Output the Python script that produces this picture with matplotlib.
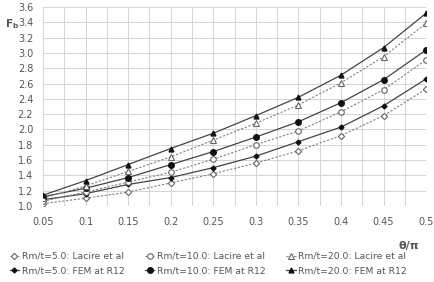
import matplotlib.pyplot as plt
import numpy as np

# theta / pi values
theta = [0.05, 0.1, 0.15, 0.2, 0.25, 0.3, 0.35, 0.4, 0.45, 0.5]

# Lacire et al (dashed, hollow markers)
lac_5 = [1.03, 1.10, 1.18, 1.30, 1.42, 1.56, 1.72, 1.92, 2.18, 2.53]
lac_10 = [1.06, 1.18, 1.31, 1.44, 1.61, 1.80, 1.98, 2.23, 2.52, 2.91]
lac_20 = [1.10, 1.26, 1.45, 1.64, 1.86, 2.08, 2.32, 2.61, 2.95, 3.39]

# FEM at R12 (solid, filled markers)
fem_5 = [1.08, 1.16, 1.28, 1.37, 1.50, 1.65, 1.84, 2.03, 2.31, 2.66]
fem_10 = [1.12, 1.23, 1.37, 1.54, 1.71, 1.90, 2.10, 2.35, 2.65, 3.04]
fem_20 = [1.14, 1.33, 1.54, 1.75, 1.95, 2.18, 2.42, 2.71, 3.07, 3.52]

fig = plt.figure(figsize=(4.34, 2.82), dpi=100)
ax = fig.add_axes([0.099, 0.27, 0.883, 0.705])

tc = "#555555"
lac_kw = dict(color="#808080", ls=(0, (2, 1.5)), lw=0.8, mfc="white", mec="#666666", mew=0.8)
fem_kw = dict(color="#444444", ls="-", lw=0.9, mfc="#111111", mec="#111111")

ax.plot(theta, lac_5, marker="D", ms=3.2, label="Rm/t=5.0: Lacire et al", **lac_kw)
ax.plot(theta, fem_5, marker="D", ms=2.5, label="Rm/t=5.0: FEM at R12", **fem_kw)
ax.plot(theta, lac_10, marker="o", ms=4, label="Rm/t=10.0: Lacire et al", **lac_kw)
ax.plot(theta, fem_10, marker="o", ms=4, label="Rm/t=10.0: FEM at R12", **fem_kw)
ax.plot(theta, lac_20, marker="^", ms=4, label="Rm/t=20.0: Lacire et al", **lac_kw)
ax.plot(theta, fem_20, marker="^", ms=3.5, label="Rm/t=20.0: FEM at R12", **fem_kw)

ax.set_xlim(0.05, 0.5)
ax.set_ylim(1.0, 3.6)
ax.set_xticks(theta)
ax.set_xticklabels(["0.05", "0.1", "0.15", "0.2", "0.25", "0.3", "0.35", "0.4", "0.45", "0.5"])
ax.set_xticks(np.arange(0.075, 0.5, 0.05), minor=True)
ax.set_yticks(np.arange(1.0, 3.61, 0.2))
ax.set_yticklabels([f"{v:.1f}" for v in np.arange(1.0, 3.61, 0.2)])
ax.grid(True, which="both", color="#d4d4d4", lw=0.7)
ax.tick_params(which="both", length=0, labelsize=7, labelcolor=tc, pad=8)
ax.tick_params(axis="y", pad=7)
for s in ax.spines.values():
    s.set_visible(False)
ax.set_axisbelow(True)

fig.text(0.012, 0.905, r"F$_\mathregular{b}$", fontsize=7.5, color=tc, fontweight="bold")
fig.text(0.965, 0.118, "θ/π", fontsize=8, color=tc, fontweight="bold", ha="right")

fig.legend(loc="lower center", bbox_to_anchor=(0.48, -0.005), ncol=3, frameon=False,
           fontsize=6.7, labelcolor=tc, handlelength=1.0, handletextpad=0.3,
           columnspacing=2.2, labelspacing=0.55)

fig.savefig("out.png", dpi=100)
